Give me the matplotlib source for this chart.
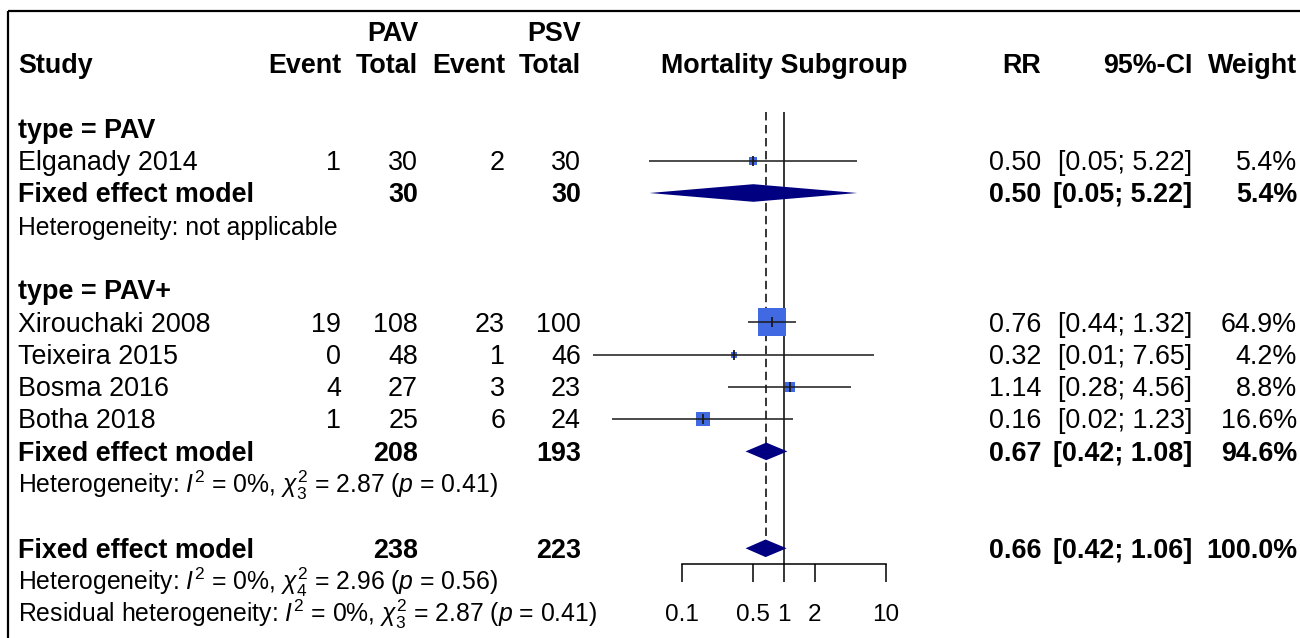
import matplotlib
matplotlib.use("Agg")
import matplotlib.pyplot as plt
from matplotlib.ticker import NullLocator

# ---- data -------------------------------------------------------------
studies = ["Elganady 2014", "Xirouchaki 2008", "Teixeira 2015", "Bosma 2016", "Botha 2018"]
study_group = ["PAV", "PAV+", "PAV+", "PAV+", "PAV+"]
pav_event = [1, 19, 0, 4, 1]
pav_total = [30, 108, 48, 27, 25]
psv_event = [2, 23, 1, 3, 6]
psv_total = [30, 100, 46, 23, 24]
rr = [0.50, 0.76, 0.32, 1.14, 0.16]
ci_low = [0.048, 0.44, 0.0134, 0.28, 0.0208]
ci_high = [5.22, 1.32, 7.65, 4.56, 1.23]
weight = [5.4, 64.9, 4.2, 8.8, 16.6]

groups = ["PAV", "PAV+"]
group_rr = [0.50, 0.67]
group_low = [0.048, 0.42]
group_high = [5.22, 1.08]
group_weight = [5.4, 94.6]
group_pav_total = [30, 208]
group_psv_total = [30, 193]
group_het = ["Heterogeneity: not applicable",
             r"Heterogeneity: $I^2$ = 0%, $\chi^2_3$ = 2.87 ($p$ = 0.41)"]

overall_rr = 0.66
overall_low = 0.42
overall_high = 1.06
overall_weight = 100.0
overall_pav_total = 238
overall_psv_total = 223
overall_het = r"Heterogeneity: $I^2$ = 0%, $\chi^2_4$ = 2.96 ($p$ = 0.56)"
resid_het = r"Residual heterogeneity: $I^2$ = 0%, $\chi^2_3$ = 2.87 ($p$ = 0.41)"

tick_values = [0.1, 0.5, 1, 2, 10]
tick_labels = ["0.1", "0.5", "1", "2", "10"]
plot_title = "Mortality Subgroup"

# ---- styling ----------------------------------------------------------
plt.rcParams["font.family"] = ["Liberation Sans", "DejaVu Sans"]
plt.rcParams["mathtext.fontset"] = "custom"
plt.rcParams["mathtext.rm"] = "Liberation Sans"
plt.rcParams["mathtext.it"] = "Liberation Sans:italic"
plt.rcParams["mathtext.bf"] = "Liberation Sans:bold"

FS = 19.4        # table text
FS_HET = 17.8    # heterogeneity statistics
FS_TICK = 17.5   # axis tick labels
W, H = 1300, 638
SQUARE_COL = "#4169E1"
DIAMOND_COL = "#000080"
LINE_COL = "#1a1a1a"

fig = plt.figure(figsize=(W / 100, H / 100), dpi=100)

# text layer in pixel coordinates
ax_t = fig.add_axes([0, 0, 1, 1])
ax_t.set_xlim(0, W)
ax_t.set_ylim(H, 0)
ax_t.axis("off")

# frame on top and left
ax_t.plot([8, W], [11, 11], color="black", lw=1.6, solid_capstyle="butt")
ax_t.plot([8, 8], [11, H], color="black", lw=1.6, solid_capstyle="butt")


def row_c(r):
    return 31.5 + 32.3 * r


def row_b(r):
    return row_c(r) + 9.3


X_STUDY = 18
X_PAV_EV, X_PAV_TOT, X_PSV_EV, X_PSV_TOT = 341, 418, 505, 581
X_RR, X_CI, X_W = 1041, 1192, 1297


def txt(x, r, s, ha="left", bold=False, size=FS):
    ax_t.text(x, row_b(r), s, ha=ha, va="baseline", fontsize=size,
              fontweight="bold" if bold else "normal", color="black")


# header
txt(X_PAV_TOT, 0, "PAV", "right", True)
txt(X_PSV_TOT, 0, "PSV", "right", True)
txt(X_STUDY, 1, "Study", bold=True)
for x, s in [(X_PAV_EV, "Event"), (X_PAV_TOT, "Total"), (X_PSV_EV, "Event"),
             (X_PSV_TOT, "Total"), (X_RR, "RR"), (X_CI, "95%-CI"), (X_W, "Weight")]:
    txt(x, 1, s, "right", True)

# forest panel (log scale)
PX_DEC, PX_ONE = 102.0, 784.0
FX0, FX1 = 560, 905


def px2val(px):
    return 10 ** ((px - PX_ONE) / PX_DEC)


ax_f = fig.add_axes([FX0 / W, 0, (FX1 - FX0) / W, 1])
ax_f.set_xscale("log")
ax_f.set_xlim(px2val(FX0), px2val(FX1))
ax_f.set_ylim(H, 0)
ax_f.patch.set_alpha(0)
for s in ["top", "left", "right"]:
    ax_f.spines[s].set_visible(False)
ax_f.spines["bottom"].set_position(("data", row_c(16.5)))
ax_f.spines["bottom"].set_bounds(tick_values[0], tick_values[-1])
ax_f.spines["bottom"].set_linewidth(1.1)
ax_f.set_xticks(tick_values)
ax_f.set_xticklabels(tick_labels)
ax_f.xaxis.set_minor_locator(NullLocator())
ax_f.tick_params(axis="x", direction="out", length=13, width=1.1, pad=15.5,
                 labelsize=FS_TICK)
ax_f.set_yticks([])

ax_t.text(PX_ONE, row_b(1), plot_title, ha="center", va="baseline",
          fontsize=FS, fontweight="bold")

HALF_D = 8.8


def diamond(est, lo, hi, r):
    c = row_c(r)
    ax_f.fill([lo, est, hi, est], [c, c - HALF_D, c, c + HALF_D],
              color=DIAMOND_COL, lw=0, zorder=4)


r = 3
for g, name in enumerate(groups):
    txt(X_STUDY, r, f"type = {name}", bold=True)
    r += 1
    for i, st in enumerate(studies):
        if study_group[i] != name:
            continue
        txt(X_STUDY, r, st)
        txt(X_PAV_EV, r, str(pav_event[i]), "right")
        txt(X_PAV_TOT, r, str(pav_total[i]), "right")
        txt(X_PSV_EV, r, str(psv_event[i]), "right")
        txt(X_PSV_TOT, r, str(psv_total[i]), "right")
        txt(X_RR, r, f"{rr[i]:.2f}", "right")
        txt(X_CI, r, f"[{ci_low[i]:.2f}; {ci_high[i]:.2f}]", "right")
        txt(X_W, r, f"{weight[i]:.1f}%", "right")
        side_pt = 3.4 * 0.72 * weight[i] ** 0.5
        ax_f.scatter([rr[i]], [row_c(r)], marker="s", s=side_pt ** 2,
                     color=SQUARE_COL, linewidths=0, zorder=3)
        ax_f.hlines(row_c(r), ci_low[i], ci_high[i], color=LINE_COL, lw=1.1, zorder=5)
        ax_f.plot([rr[i]], [row_c(r)], marker="|", markersize=6.5, mew=1.3,
                  color=LINE_COL, zorder=6)
        r += 1
    txt(X_STUDY, r, "Fixed effect model", bold=True)
    txt(X_PAV_TOT, r, str(group_pav_total[g]), "right", True)
    txt(X_PSV_TOT, r, str(group_psv_total[g]), "right", True)
    txt(X_RR, r, f"{group_rr[g]:.2f}", "right", True)
    txt(X_CI, r, f"[{group_low[g]:.2f}; {group_high[g]:.2f}]", "right", True)
    txt(X_W, r, f"{group_weight[g]:.1f}%", "right", True)
    diamond(group_rr[g], group_low[g], group_high[g], r)
    r += 1
    txt(X_STUDY, r, group_het[g], size=FS_HET)
    r += 2

# overall summary
txt(X_STUDY, r, "Fixed effect model", bold=True)
txt(X_PAV_TOT, r, str(overall_pav_total), "right", True)
txt(X_PSV_TOT, r, str(overall_psv_total), "right", True)
txt(X_RR, r, f"{overall_rr:.2f}", "right", True)
txt(X_CI, r, f"[{overall_low:.2f}; {overall_high:.2f}]", "right", True)
txt(X_W, r, f"{overall_weight:.1f}%", "right", True)
diamond(overall_rr, overall_low, overall_high, r)
overall_row = r
txt(X_STUDY, r + 1, overall_het, size=FS_HET)
txt(X_STUDY, r + 2, resid_het, size=FS_HET)

# reference lines
ax_f.vlines(1, row_c(2.5), row_c(16.5), color="black", lw=1.1, zorder=1)
ax_f.plot([overall_rr, overall_rr], [row_c(2.5), row_c(overall_row) - HALF_D],
          color="black", lw=1.1, dashes=(5.5, 3), zorder=1)

fig.savefig("out.png", dpi=100)
